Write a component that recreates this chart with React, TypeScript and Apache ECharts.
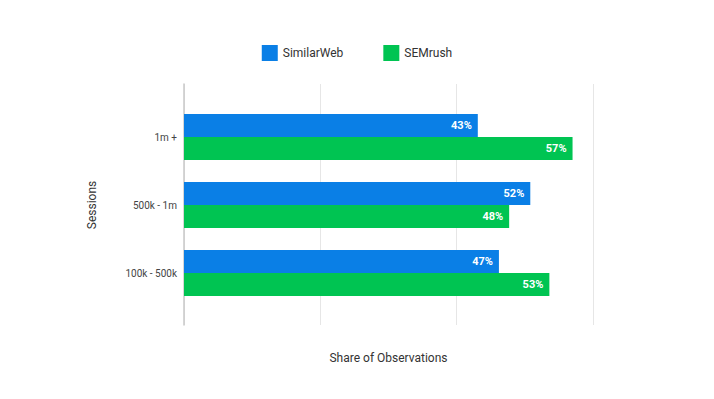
import React, { useEffect, useRef } from "react";
import * as echarts from "echarts";

const categories = ["1m +", "500k - 1m", "100k - 500k"];
// bar lengths
const similarWeb = [43.1, 50.8, 46.2];
const semrush = [57.0, 47.7, 53.6];
// value labels as printed on the bars
const similarWebLabels = ["43%", "52%", "47%"];
const semrushLabels = ["57%", "48%", "53%"];
const seriesNames = ["SimilarWeb", "SEMrush"];

export default function App() {
  const ref = useRef<HTMLDivElement>(null);
  useEffect(() => {
    if (!ref.current) return;
    const chart = echarts.init(ref.current, null, { renderer: "svg" });
    const makeLabel = (texts: string[]) => ({
      show: true,
      position: "insideRight",
      distance: 6,
      formatter: (p: any) => texts[p.dataIndex],
      color: "#ffffff",
      fontWeight: "bold",
      fontSize: 11,
      fontFamily: "Roboto",
    });
    chart.setOption({
      animation: false,
      textStyle: { fontFamily: "Roboto" },
      legend: {
        top: 40,
        left: "center",
        itemWidth: 16,
        itemHeight: 16,
        itemGap: 40,
        icon: "rect",
        textStyle: { fontSize: 12, color: "#333" },
        data: seriesNames,
      },
      grid: [
        { left: 184, right: 121, top: 103, height: 204 },
        { left: 184, right: 121, top: 84, bottom: 74 },
      ],
      xAxis: [
        {
          gridIndex: 0,
          type: "value",
          min: 0,
          max: 60,
          interval: 20,
          axisLabel: { show: false },
          axisLine: { show: false },
          axisTick: { show: false },
          splitLine: { show: false },
        },
        {
          gridIndex: 1,
          type: "value",
          min: 0,
          max: 60,
          interval: 20,
          axisLabel: { show: false },
          axisLine: { show: false },
          axisTick: { show: false },
          splitLine: { show: true, lineStyle: { color: "#e6e6e6" } },
          name: "Share of Observations",
          nameLocation: "middle",
          nameGap: 27,
          nameTextStyle: { fontSize: 12, color: "#333" },
        },
      ],
      yAxis: [
        {
          gridIndex: 0,
          type: "category",
          inverse: true,
          data: categories,
          axisLine: { show: false },
          axisTick: { show: false },
          axisLabel: { fontSize: 10, color: "#444", margin: 7 },
          name: "Sessions",
          nameLocation: "middle",
          nameGap: 86,
          nameTextStyle: { fontSize: 12, color: "#333" },
        },
        {
          gridIndex: 1,
          type: "value",
          axisLabel: { show: false },
          axisTick: { show: false },
          splitLine: { show: false },
          axisLine: { show: true, lineStyle: { color: "#c8c8c8", width: 1.5 } },
        },
      ],
      series: [
        {
          name: seriesNames[0],
          type: "bar",
          xAxisIndex: 0,
          yAxisIndex: 0,
          data: similarWeb,
          barWidth: 23,
          barGap: "0%",
          itemStyle: { color: "#0a7fe6" },
          label: makeLabel(similarWebLabels),
        },
        {
          name: seriesNames[1],
          type: "bar",
          xAxisIndex: 0,
          yAxisIndex: 0,
          data: semrush,
          barWidth: 23,
          barGap: "0%",
          itemStyle: { color: "#00c452" },
          label: makeLabel(semrushLabels),
        },
      ],
    });
    return () => chart.dispose();
  }, []);
  return (
    <div
      ref={ref}
      style={{ position: "fixed", left: 0, top: 0, width: 714, height: 399, background: "#fff" }}
    />
  );
}
